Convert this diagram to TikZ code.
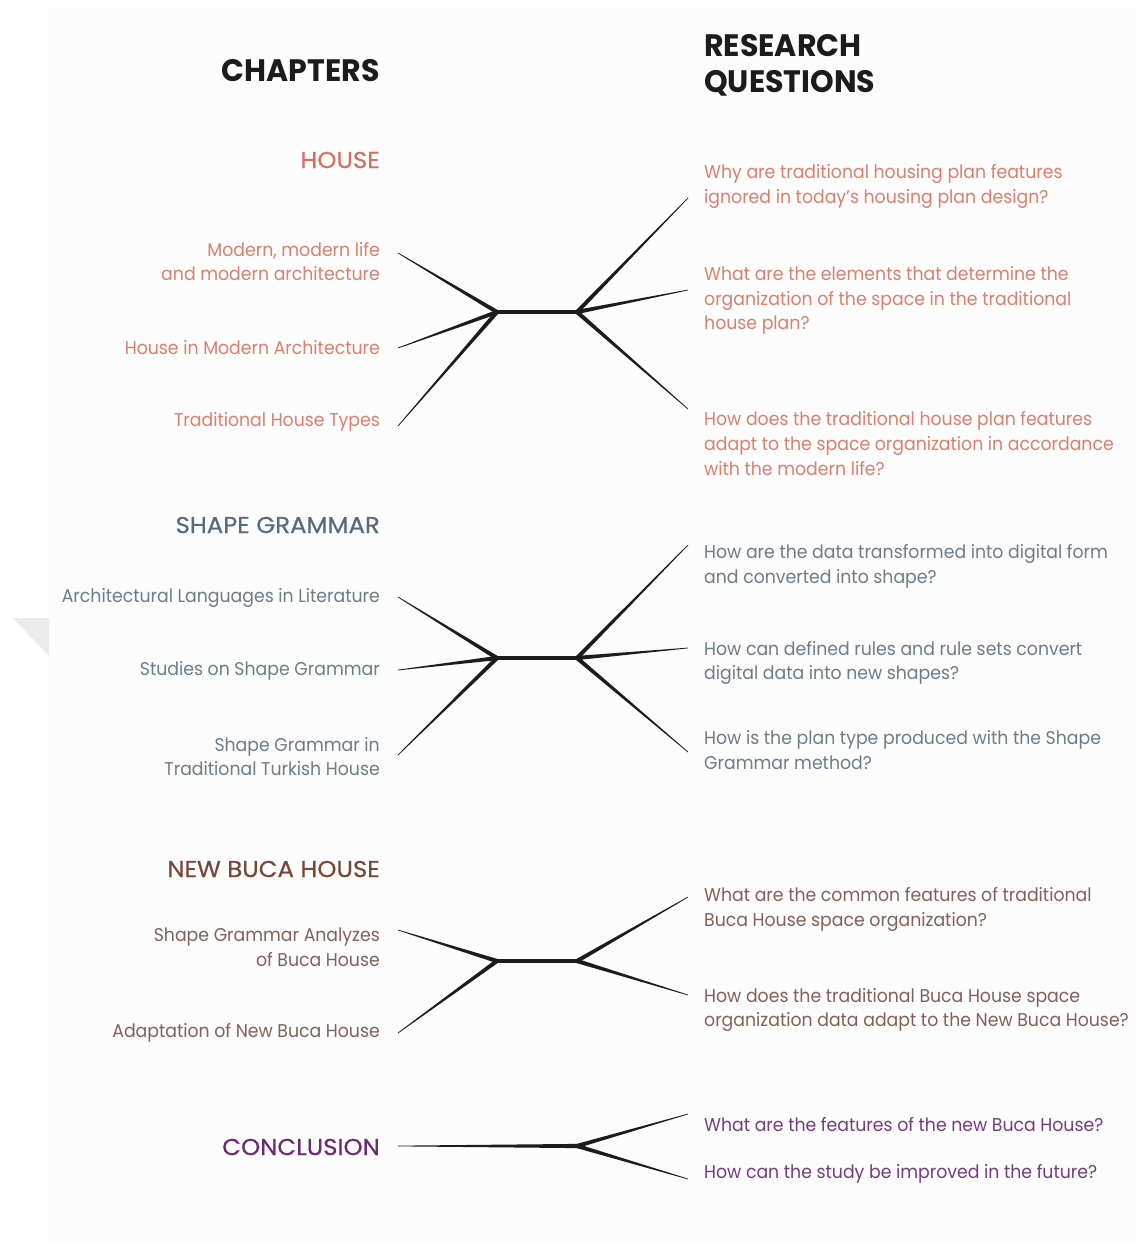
\documentclass[tikz,border=0pt]{standalone}
\usepackage{fontspec}
\setmainfont{Poppins}[FakeStretch=0.935]
\newfontfamily\headfont{Poppins}[FakeStretch=0.97]
\newfontfamily\secfont{Poppins}[FakeStretch=1.06,FakeBold=0.5]
\usetikzlibrary{calc}

\definecolor{pagebg}{HTML}{FCFCFC}
\definecolor{foldgray}{HTML}{EBEBEB}
\definecolor{ink}{HTML}{1C1C1C}
\definecolor{houseC}{HTML}{D4715E}
\definecolor{houseT}{HTML}{D9806E}
\definecolor{sgC}{HTML}{566C7A}
\definecolor{sgT}{HTML}{6D7D88}
\definecolor{bucaC}{HTML}{7A4636}
\definecolor{bucaT}{HTML}{80625A}
\definecolor{conC}{HTML}{6A2A72}
\definecolor{conT}{HTML}{733E7C}

% tapered connector: thick at the hub (#1), fine at the free end (#2)
\newcommand\taper[2]{%
  \fill[ink] ($(#1)!2.1pt!90:(#2)$) -- ($(#2)!0.35pt!-90:(#1)$)
    -- ($(#2)!0.35pt!90:(#1)$) -- ($(#1)!2.1pt!-90:(#2)$) -- cycle;}

\begin{document}
\begin{tikzpicture}[x=1pt,y=-1pt,
  chap/.style={anchor=east,align=right,inner sep=0pt,yshift=-2pt,
    font=\fontsize{18.5}{24.6}\selectfont},
  ques/.style={anchor=west,align=left,inner sep=0pt,yshift=-2pt,
    font=\fontsize{18.5}{24.6}\selectfont},
  sect/.style={anchor=east,inner sep=0pt,font=\secfont\fontsize{23}{28}\selectfont},
  head/.style={inner sep=0pt,align=left,text=ink,
    font=\headfont\bfseries\fontsize{31}{36}\selectfont},
  hubbar/.style={draw=ink,line width=3.2pt}]

\useasboundingbox (0,0) rectangle (1136,1243);
\fill[white] (0,0) rectangle (1136,1243);
\fill[pagebg] (49,8) rectangle (1136,1243);
\fill[foldgray] (13,618) -- (49,618) -- (49,656) -- cycle;

% column headings
\node[head,anchor=east] (hchap) at (380,71) {CHAPTERS};
\node[head,anchor=west] (hques) at (704,65) {RESEARCH\\QUESTIONS};

% ---------------- HOUSE ----------------
\node[sect,text=houseC] (s1) at (380,160) {HOUSE};
\node[chap,text=houseT] (c11) at (380,259.5) {Modern, modern life\\and modern architecture};
\node[chap,text=houseT] (c12) at (380,346) {House in Modern Architecture};
\node[chap,text=houseT] (c13) at (380,420) {Traditional House Types};
\node[ques,text=houseT] (q11) at (704,184.5) {Why are traditional housing plan features\\ignored in today’s housing plan design?};
\node[ques,text=houseT] (q12) at (704,298.5) {What are the elements that determine the\\organization of the space in the traditional\\house plan?};
\node[ques,text=houseT] (q13) at (704,441.5) {How does the traditional house plan features\\adapt to the space organization in accordance\\with the modern life?};

\coordinate (h1l) at (497,312);
\coordinate (h1r) at (577,312);
\coordinate (a11) at (398,253);
\coordinate (a12) at (398,348);
\coordinate (a13) at (398,426);
\coordinate (b11) at (688,198);
\coordinate (b12) at (688,290);
\coordinate (b13) at (688,409);
\draw[hubbar] (h1l) -- (h1r);
\taper{h1l}{a11}\taper{h1l}{a12}\taper{h1l}{a13}
\taper{h1r}{b11}\taper{h1r}{b12}\taper{h1r}{b13}

% ---------------- SHAPE GRAMMAR ----------------
\node[sect,text=sgC] (s2) at (380,525) {SHAPE GRAMMAR};
\node[chap,text=sgT] (c21) at (380,596) {Architectural Languages in Literature};
\node[chap,text=sgT] (c22) at (380,669) {Studies on Shape Grammar};
\node[chap,text=sgT] (c23) at (380,754.5) {Shape Grammar in\\Traditional Turkish House};
\node[ques,text=sgT] (q21) at (704,564.5) {How are the data transformed into digital form\\and converted into shape?};
\node[ques,text=sgT] (q22) at (704,661) {How can defined rules and rule sets convert\\digital data into new shapes?};
\node[ques,text=sgT] (q23) at (704,748) {How is the plan type produced with the Shape\\Grammar method?};

\coordinate (h2l) at (497,658);
\coordinate (h2r) at (577,658);
\coordinate (a21) at (398,597);
\coordinate (a22) at (398,670);
\coordinate (a23) at (398,755);
\coordinate (b21) at (688,545);
\coordinate (b22) at (688,648);
\coordinate (b23) at (688,752);
\draw[hubbar] (h2l) -- (h2r);
\taper{h2l}{a21}\taper{h2l}{a22}\taper{h2l}{a23}
\taper{h2r}{b21}\taper{h2r}{b22}\taper{h2r}{b23}

% ---------------- NEW BUCA HOUSE ----------------
\node[sect,text=bucaC] (s3) at (380,869) {NEW BUCA HOUSE};
\node[chap,text=bucaT] (c31) at (380,945) {Shape Grammar Analyzes\\of Buca House};
\node[chap,text=bucaT] (c32) at (380,1031) {Adaptation of New Buca House};
\node[ques,text=bucaT] (q31) at (704,907.5) {What are the common features of traditional\\Buca House space organization?};
\node[ques,text=bucaT] (q32) at (704,1008) {How does the traditional Buca House space\\organization data adapt to the New Buca House?};

\coordinate (h3l) at (497,961);
\coordinate (h3r) at (577,961);
\coordinate (a31) at (398,930);
\coordinate (a32) at (398,1033);
\coordinate (b31) at (688,897);
\coordinate (b32) at (688,995);
\draw[hubbar] (h3l) -- (h3r);
\taper{h3l}{a31}\taper{h3l}{a32}
\taper{h3r}{b31}\taper{h3r}{b32}

% ---------------- CONCLUSION ----------------
\node[sect,text=conC] (s4) at (380,1147) {CONCLUSION};
\node[ques,text=conT] (q41) at (704,1123) {What are the features of the new Buca House?};
\node[ques,text=conT] (q42) at (704,1172) {How can the study be improved in the future?};

\coordinate (h4r) at (577,1146);
\coordinate (a41) at (398,1146);
\coordinate (b41) at (688,1114);
\coordinate (b42) at (688,1179);
\taper{h4r}{a41}
\taper{h4r}{b41}\taper{h4r}{b42}

\end{tikzpicture}
\end{document}
